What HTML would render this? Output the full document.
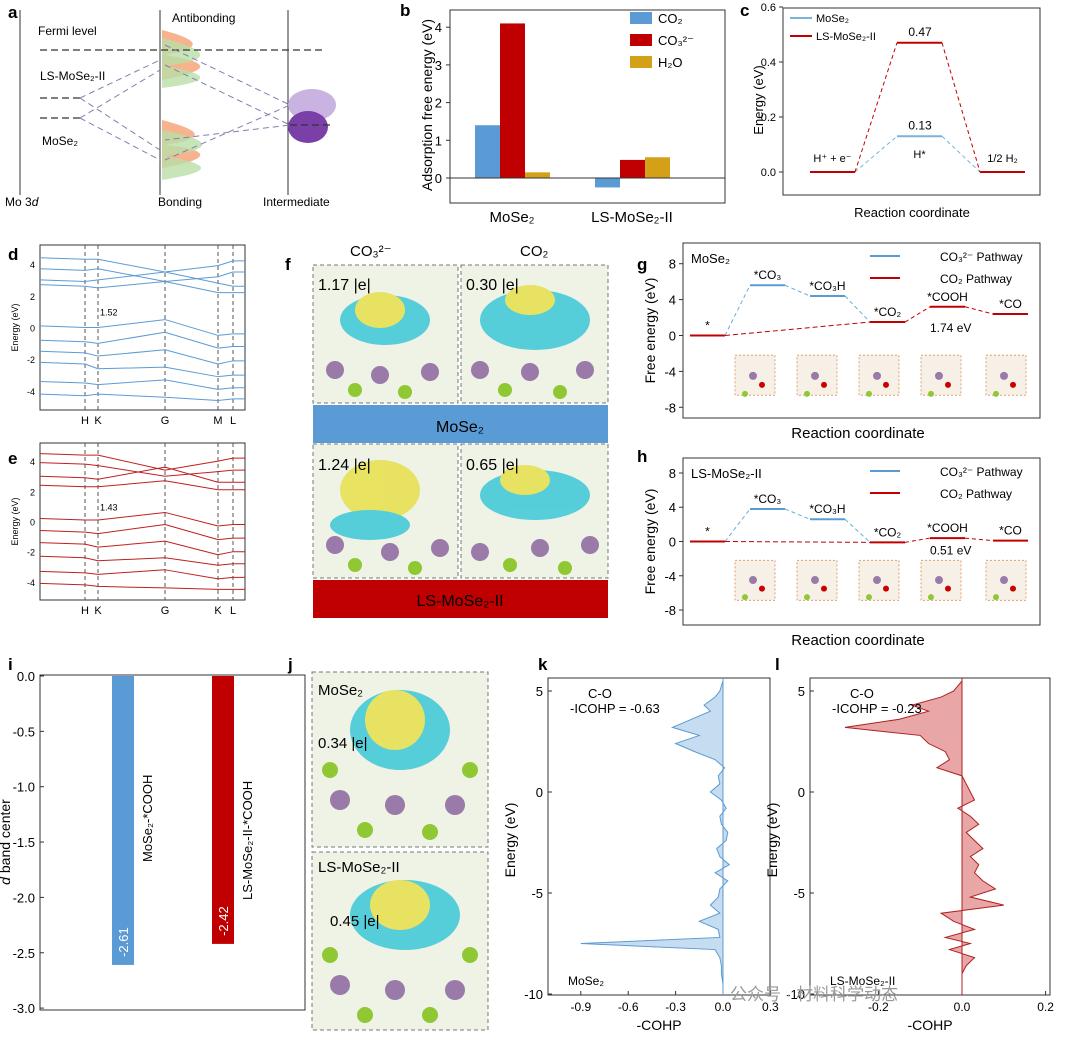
<!DOCTYPE html>
<html><head><meta charset="utf-8"><style>
body{margin:0;background:#fff}
svg{display:block;font-family:"Liberation Sans","Noto Sans CJK SC",sans-serif}
</style></head><body>
<svg id="fig" width="1074" height="1041" viewBox="0 0 1074 1041" xmlns="http://www.w3.org/2000/svg">
<g font-weight="bold" font-size="17">
<text x="8" y="18">a</text><text x="400" y="16">b</text><text x="740" y="16">c</text>
<text x="8" y="260">d</text><text x="8" y="464">e</text><text x="285" y="270">f</text>
<text x="637" y="270">g</text><text x="637" y="462">h</text>
<text x="8" y="670">i</text><text x="288" y="670">j</text><text x="538" y="670">k</text><text x="775" y="670">l</text>
</g>
<!-- panel a -->
<g font-size="12">
<line x1="20" y1="10" x2="20" y2="195" stroke="#333"/>
<line x1="160" y1="10" x2="160" y2="195" stroke="#333"/>
<line x1="288" y1="10" x2="288" y2="195" stroke="#333"/>
<path d="M162 30 C200 40 205 48 165 55 C210 62 215 70 162 80 Z" fill="#f4a071" opacity="0.8"/>
<path d="M162 38 C210 50 215 60 165 66 C215 75 210 82 162 88 Z" fill="#b9dfa8" opacity="0.8"/>
<path d="M162 120 C200 130 210 138 165 145 C215 150 210 160 162 168 Z" fill="#f4a071" opacity="0.8"/>
<path d="M162 130 C215 140 215 150 165 156 C215 165 212 172 162 180 Z" fill="#b9dfa8" opacity="0.8"/>
<ellipse cx="312" cy="105" rx="24" ry="16" fill="#c9b3e0"/>
<ellipse cx="308" cy="127" rx="20" ry="16" fill="#7b3fa8"/>
<g stroke="#333" stroke-dasharray="7,4" stroke-width="1.3">
<line x1="40" y1="50" x2="325" y2="50"/><line x1="40" y1="98" x2="80" y2="98"/><line x1="40" y1="118" x2="80" y2="118"/><line x1="290" y1="125" x2="330" y2="125"/>
</g>
<g stroke="#8080b0" stroke-dasharray="6,4" fill="none">
<path d="M80 98 L160 60 M80 98 L160 150 M80 118 L160 70 M80 118 L160 160"/>
<path d="M165 45 L290 105 L165 160 M165 65 L290 125 L165 140"/>
</g>
<text x="38" y="35">Fermi level</text><text x="172" y="22">Antibonding</text>
<text x="40" y="80">LS-MoSe₂-II</text><text x="42" y="145">MoSe₂</text>
<text x="5" y="206">Mo 3<tspan font-style="italic">d</tspan></text><text x="158" y="206">Bonding</text><text x="263" y="206">Intermediate</text>
</g>
<g id="gb"></g>
<g id="gc"></g>
<g id="gd"></g>
<g id="ge"></g>
<!-- panel f -->
<g font-size="14">
<text x="350" y="256" font-size="15">CO₃²⁻</text><text x="520" y="256" font-size="15">CO₂</text>
<rect x="313" y="265" width="145" height="138" fill="#eef3e6" stroke="#777" stroke-dasharray="4,3"/>
<rect x="461" y="265" width="147" height="138" fill="#eef3e6" stroke="#777" stroke-dasharray="4,3"/>
<rect x="313" y="444" width="145" height="134" fill="#eef3e6" stroke="#777" stroke-dasharray="4,3"/>
<rect x="461" y="444" width="147" height="134" fill="#eef3e6" stroke="#777" stroke-dasharray="4,3"/>
<g opacity="0.85">
<ellipse cx="385" cy="320" rx="45" ry="25" fill="#3cc8d8"/><ellipse cx="380" cy="310" rx="25" ry="18" fill="#e6e04a"/>
<ellipse cx="535" cy="320" rx="55" ry="30" fill="#3cc8d8"/><ellipse cx="530" cy="300" rx="25" ry="15" fill="#e6e04a"/>
<ellipse cx="380" cy="490" rx="40" ry="30" fill="#e6e04a"/><ellipse cx="370" cy="525" rx="40" ry="15" fill="#3cc8d8"/>
<ellipse cx="535" cy="495" rx="55" ry="25" fill="#3cc8d8"/><ellipse cx="525" cy="480" rx="25" ry="15" fill="#e6e04a"/>
</g>
<g fill="#9a7aa8"><circle cx="335" cy="370" r="9"/><circle cx="380" cy="375" r="9"/><circle cx="430" cy="372" r="9"/><circle cx="480" cy="370" r="9"/><circle cx="530" cy="372" r="9"/><circle cx="585" cy="370" r="9"/>
<circle cx="335" cy="545" r="9"/><circle cx="390" cy="552" r="9"/><circle cx="440" cy="548" r="9"/><circle cx="480" cy="552" r="9"/><circle cx="540" cy="548" r="9"/><circle cx="590" cy="545" r="9"/></g>
<g fill="#8fc832"><circle cx="355" cy="390" r="7"/><circle cx="405" cy="392" r="7"/><circle cx="505" cy="390" r="7"/><circle cx="560" cy="392" r="7"/><circle cx="355" cy="565" r="7"/><circle cx="415" cy="568" r="7"/><circle cx="510" cy="565" r="7"/><circle cx="565" cy="568" r="7"/></g>
<text x="318" y="290" font-size="16">1.17 |e|</text><text x="466" y="290" font-size="16">0.30 |e|</text>
<text x="318" y="470" font-size="16">1.24 |e|</text><text x="466" y="470" font-size="16">0.65 |e|</text>
<rect x="313" y="405" width="295" height="38" fill="#5b9bd5"/>
<text x="460" y="432" text-anchor="middle" font-size="16">MoSe₂</text>
<rect x="313" y="580" width="295" height="38" fill="#c00000"/>
<text x="460" y="606" text-anchor="middle" font-size="16">LS-MoSe₂-II</text>
</g>
<g id="gg"></g>
<g id="gh"></g>
<g id="gi"></g>
<!-- panel j -->
<g font-size="14">
<rect x="312" y="672" width="176" height="175" fill="#eef3e6" stroke="#777" stroke-dasharray="4,3"/>
<rect x="312" y="852" width="176" height="178" fill="#eef3e6" stroke="#777" stroke-dasharray="4,3"/>
<g opacity="0.85"><ellipse cx="400" cy="730" rx="50" ry="40" fill="#3cc8d8"/><ellipse cx="395" cy="720" rx="30" ry="30" fill="#e6e04a"/>
<ellipse cx="405" cy="915" rx="55" ry="35" fill="#3cc8d8"/><ellipse cx="400" cy="905" rx="30" ry="25" fill="#e6e04a"/></g>
<g fill="#9a7aa8"><circle cx="340" cy="800" r="10"/><circle cx="395" cy="805" r="10"/><circle cx="455" cy="805" r="10"/><circle cx="340" cy="985" r="10"/><circle cx="395" cy="990" r="10"/><circle cx="455" cy="990" r="10"/></g>
<g fill="#8fc832"><circle cx="330" cy="770" r="8"/><circle cx="365" cy="830" r="8"/><circle cx="430" cy="832" r="8"/><circle cx="470" cy="770" r="8"/><circle cx="330" cy="955" r="8"/><circle cx="365" cy="1015" r="8"/><circle cx="430" cy="1015" r="8"/><circle cx="470" cy="955" r="8"/></g>
<text x="318" y="695" font-size="15">MoSe₂</text><text x="318" y="748" font-size="15">0.34 |e|</text>
<text x="318" y="872" font-size="15">LS-MoSe₂-II</text><text x="330" y="926" font-size="15">0.45 |e|</text>
</g>
<g id="gk"></g>
<g id="gl"></g>
<text x="730" y="1000" font-size="17" fill="#999">公众号 · 材料科学动态</text>
</svg>
<script>
// ---- data ----
const bCats=["MoSe₂","LS-MoSe₂-II"];
const bCO2=[1.4,-0.25];
const bCO3=[4.1,0.48];
const bH2O=[0.15,0.55];
const bTicks=[0,1,2,3,4];
const cSteps=["H⁺ + e⁻","H*","1/2 H₂"];
const cMo=[0,0.13,0];
const cLS=[0,0.47,0];
const cTicks=[0,0.2,0.4,0.6];
const gSteps=["*","*CO₃","*CO₃H","*CO₂","*COOH","*CO"];
const gMoSe2=[0,5.6,4.4,1.5,3.2,2.4];
const gLS=[0,3.8,2.6,-0.1,0.4,0.1];
const gTicks=[8,4,0,-4,-8];
const iCats=["MoSe₂-*COOH","LS-MoSe₂-II-*COOH"];
const iVals=[-2.61,-2.42];
const iTicks=[0,-0.5,-1,-1.5,-2,-2.5,-3];
const kE=[5.5,5,4.7,4.3,4,3.6,3.2,2.8,2.4,2,1.6,1.2,0.8,0.4,0,-0.4,-0.8,-1.2,-1.6,-2,-2.4,-2.8,-3.2,-3.6,-4,-4.4,-4.8,-5.2,-5.6,-6,-6.4,-6.8,-7.2,-7.5,-7.8,-8.2,-8.6,-9,-9.5];
const kCOHP=[0,-0.02,-0.05,-0.12,-0.08,-0.2,-0.32,-0.15,-0.3,-0.18,-0.05,0.01,-0.03,-0.02,-0.08,-0.01,0.02,-0.02,-0.01,0.03,0.02,-0.04,-0.02,0.04,-0.05,0.03,-0.02,-0.03,-0.08,-0.02,-0.15,-0.03,-0.02,-0.9,-0.05,-0.02,-0.01,-0.01,0];
const lCOHP=[0,-0.02,-0.05,-0.12,-0.08,-0.15,-0.28,-0.1,-0.08,-0.04,-0.03,-0.06,0,0.01,0.02,0.03,-0.01,0.02,0.04,0.01,0.03,0.05,0.02,0.04,0.03,0.05,0.08,0.02,0.1,-0.05,-0.02,0.03,-0.04,0.02,-0.03,0.03,0.01,0,0];
const kTicksX=[-0.9,-0.6,-0.3,0,0.3];
const lTicksX=[-0.2,0,0.2];
const eTicks=[5,0,-5,-10];
const bandK=["H","K","G","M","L"];
const bandsD=[[4.3,4.3,3.5,3.9,4.2],[3.6,3.7,2.9,3.2,3.5],[2.9,3,3.5,2.8,2.6],[2.6,2.5,2.9,2.2,2.2],[0,0,0.5,-0.5,-0.4],[-0.9,-1,-0.3,-1.3,-1.2],[-1.6,-1.8,-1.4,-2.3,-2.1],[-2.3,-2.6,-2.5,-3.1,-3],[-3.5,-3.6,-3.3,-3.9,-3.8],[-4.3,-4.2,-4.4,-4.6,-4.5]];
const bandsE=[[4.4,4.4,3.4,4,4.2],[3.8,3.7,3,3.3,3.4],[2.9,2.8,3.6,2.6,2.6],[2.3,2.3,2.7,2.1,2.1],[0.1,0.1,0.6,-0.3,-0.2],[-0.7,-0.8,-0.2,-1.2,-1.1],[-1.5,-1.7,-1.3,-2.2,-2],[-2.4,-2.6,-2.4,-2.9,-2.8],[-3.4,-3.5,-3.2,-3.8,-3.7],[-4.2,-4.3,-4.4,-4.5,-4.5]];
</script>
<script>
const NS="http://www.w3.org/2000/svg";
function mk(p,t,a,txt){const e=document.createElementNS(NS,t);for(const k in a)e.setAttribute(k,a[k]);if(txt!==undefined)e.textContent=txt;p.appendChild(e);return e;}
const BLUE="#5b9bd5",RED="#c00000",GOLD="#d4a017";
// panel b
(function(){const g=document.getElementById('gb');const L=450,R=725,T=10,B=203;const y=v=>178-v*37.7;
mk(g,'rect',{x:L,y:T,width:R-L,height:B-T,fill:'none',stroke:'#333'});
bTicks.forEach(v=>{mk(g,'line',{x1:L-4,x2:L,y1:y(v),y2:y(v),stroke:'#333'});const t=mk(g,'text',{x:L-8,y:y(v)+5,'text-anchor':'end','font-size':13},v);});
const series=[[bCO2,BLUE],[bCO3,RED],[bH2O,GOLD]];
bCats.forEach((c,i)=>{const cx=i===0?512:632;series.forEach((s,j)=>{const v=s[0][i];const r=mk(g,'rect',{x:cx-37+j*25,y:Math.min(y(v),y(0)),width:25,height:Math.abs(y(v)-y(0)),fill:s[1]});});
const t=mk(g,'text',{x:cx,y:222,'text-anchor':'middle','font-size':15},c);});
mk(g,'line',{x1:L,x2:R,y1:y(0),y2:y(0),stroke:'#333'});
const tt=mk(g,'text',{transform:'translate(432,105) rotate(-90)','text-anchor':'middle','font-size':14},'Adsorption free energy (eV)');
[["CO₂",BLUE],["CO₃²⁻",RED],["H₂O",GOLD]].forEach((l,i)=>{mk(g,'rect',{x:630,y:12+i*22,width:22,height:12,fill:l[1]});const t=mk(g,'text',{x:658,y:23+i*22,'font-size':13},l[0]);});
})();
// panel c
(function(){const g=document.getElementById('gc');const L=783,R=1040,T=8,B=195;const y=v=>172-v*275;
mk(g,'rect',{x:L,y:T,width:R-L,height:B-T,fill:'none',stroke:'#333'});
cTicks.forEach(v=>{mk(g,'line',{x1:L-4,x2:L,y1:y(v),y2:y(v),stroke:'#333'});mk(g,'text',{x:L-7,y:y(v)+4,'text-anchor':'end','font-size':11},v.toFixed(1));});
mk(g,'text',{transform:'translate(763,100) rotate(-90)','text-anchor':'middle','font-size':13},'Energy (eV)');
mk(g,'text',{x:912,y:217,'text-anchor':'middle','font-size':13},'Reaction coordinate');
const xs=[810,897,980],w=45;
[[cMo,"#7ab3d9"],[cLS,RED]].forEach(s=>{s[0].forEach((v,i)=>{const l=mk(g,'line',{x1:xs[i],x2:xs[i]+w,y1:y(v),y2:y(v),stroke:s[1],'stroke-width':2});if(i<2)mk(g,'line',{x1:xs[i]+w,x2:xs[i+1],y1:y(v),y2:y(s[0][i+1]),stroke:s[1],'stroke-dasharray':'4,3'});});});
mk(g,'text',{x:920,y:y(cLS[1])-7,'text-anchor':'middle','font-size':12},cLS[1].toFixed(2));
mk(g,'text',{x:920,y:y(cMo[1])-7,'text-anchor':'middle','font-size':12},cMo[1].toFixed(2));
cSteps.forEach((s,i)=>mk(g,'text',{x:xs[i]+w/2,y:i==1?158:y(0)-10,'text-anchor':'middle','font-size':11},s));
mk(g,'line',{x1:790,x2:812,y1:18,y2:18,stroke:'#7ab3d9','stroke-width':2});mk(g,'text',{x:816,y:22,'font-size':11},'MoSe₂');
mk(g,'line',{x1:790,x2:812,y1:36,y2:36,stroke:RED,'stroke-width':2});mk(g,'text',{x:816,y:40,'font-size':11},'LS-MoSe₂-II');
})();
// bands
function bands(id,T,B,data,col,labs,gapTxt){const g=document.getElementById(id);const L=40,R=245;const y=v=>(T+B)/2-v*(B-T)/10.4;const kx=[85,98,165,218,233];
mk(g,'rect',{x:L,y:T,width:R-L,height:B-T,fill:'none',stroke:'#333'});
[4,2,0,-2,-4].forEach(v=>mk(g,'text',{x:L-5,y:y(v)+4,'text-anchor':'end','font-size':9},v));
kx.forEach(x=>mk(g,'line',{x1:x,x2:x,y1:T,y2:B,stroke:'#555','stroke-dasharray':'4,3'}));
mk(g,'text',{transform:`translate(18,${(T+B)/2}) rotate(-90)`,'text-anchor':'middle','font-size':9},'Energy (eV)');
labs.forEach((l,i)=>mk(g,'text',{x:kx[i],y:B+14,'text-anchor':'middle','font-size':11},l));
data.forEach(b=>{const pts=[[L,b[0]+0.1]].concat(kx.map((x,i)=>[x,b[i]])).concat([[R,b[4]]]);const d='M'+pts.map(p=>p[0]+' '+y(p[1])).join(' L');
const p=mk(g,'path',{d:d,fill:'none',stroke:col,'stroke-width':1,'stroke-linejoin':'round'});});
mk(g,'text',{x:100,y:y(1)+4,'font-size':9},gapTxt);}
bands('gd',245,410,bandsD,"#5b9bd5",bandK,"1.52");
bands('ge',443,600,bandsE,"#c02020",["H","K","G","K","L"],"1.43");
// panels g,h
function path(id,T,B,vals,title,gapTxt){const g=document.getElementById(id);const L=683,R=1040;const y0=(T+B)/2+(id=='gg'?5:0);const sc=(B-T)/19.5;const y=v=>y0-v*sc;
mk(g,'rect',{x:L,y:T,width:R-L,height:B-T,fill:'none',stroke:'#333'});
gTicks.forEach(v=>{mk(g,'line',{x1:L-4,x2:L,y1:y(v),y2:y(v),stroke:'#333'});mk(g,'text',{x:L-7,y:y(v)+5,'text-anchor':'end','font-size':13},v);});
mk(g,'text',{transform:`translate(655,${(T+B)/2}) rotate(-90)`,'text-anchor':'middle','font-size':14},'Free energy (eV)');
mk(g,'text',{x:858,y:B+20,'text-anchor':'middle','font-size':15},'Reaction coordinate');
mk(g,'text',{x:L+8,y:T+20,'font-size':13},title);
const xs=[690,750,810,870,930,993],w=35;
vals.forEach((v,i)=>{const c=(i==1||i==2)?BLUE:RED;const l=mk(g,'line',{x1:xs[i],x2:xs[i]+w,y1:y(v),y2:y(v),stroke:c,'stroke-width':2});
mk(g,'text',{x:xs[i]+w/2,y:y(v)-6,'text-anchor':'middle','font-size':12},gSteps[i]);
if(i<5){const dc=(i<3)?"#6aaed6":RED;mk(g,'line',{x1:xs[i]+w,x2:xs[i+1],y1:y(v),y2:y(vals[i+1]),stroke:dc,'stroke-dasharray':'4,3'});}});
mk(g,'line',{x1:xs[0]+w,x2:xs[3],y1:y(0),y2:y(vals[3]),stroke:RED,'stroke-dasharray':'5,3'});
mk(g,'text',{x:930,y:y(vals[3])+ (id=='gg'?10:12),'font-size':12},gapTxt);
xs.slice(1).forEach((x,i)=>{mk(g,'rect',{x:x-15+i*2,y:y(-2.2),width:40,height:40,fill:'#f6f0e6',stroke:'#e0a070','stroke-dasharray':'2,2'});mk(g,'circle',{cx:x+3+i*2,cy:y(-4.5),r:4,fill:'#9a7aa8'});mk(g,'circle',{cx:x+12+i*2,cy:y(-5.5),r:3,fill:'#c00'});mk(g,'circle',{cx:x-5+i*2,cy:y(-6.5),r:3,fill:'#8fc832'});});
mk(g,'line',{x1:870,x2:900,y1:T+13,y2:T+13,stroke:BLUE,'stroke-width':2});mk(g,'text',{x:940,y:T+18,'font-size':12},'CO₃²⁻ Pathway');
mk(g,'line',{x1:870,x2:900,y1:T+35,y2:T+35,stroke:RED,'stroke-width':2});mk(g,'text',{x:940,y:T+40,'font-size':12},'CO₂  Pathway');}
path('gg',243,418,gMoSe2,'MoSe₂','1.74 eV');
path('gh',458,625,gLS,'LS-MoSe₂-II','0.51 eV');
// panel i
(function(){const g=document.getElementById('gi');const L=40,R=305,T=675,B=1010;const yy=v=>676-v*110.7;
mk(g,'rect',{x:L,y:T,width:R-L,height:B-T,fill:'none',stroke:'#333'});
iTicks.forEach(v=>{mk(g,'line',{x1:L,x2:L+4,y1:yy(v),y2:yy(v),stroke:'#333'});mk(g,'text',{x:L-5,y:yy(v)+5,'text-anchor':'end','font-size':13},v.toFixed(1));});
const yt=mk(g,'text',{transform:'translate(10,842) rotate(-90)','text-anchor':'middle','font-size':14});
mk(yt,'tspan',{'font-style':'italic'},'d');mk(yt,'tspan',{},' band center');
const xs=[112,212],cs=[BLUE,RED];
iVals.forEach((v,i)=>{const r=mk(g,'rect',{x:xs[i],y:yy(0),width:22,height:yy(v)-yy(0),fill:cs[i]});
mk(g,'text',{transform:`translate(${xs[i]+16},${yy(v)-8}) rotate(-90)`,'font-size':13,fill:'#fff'},v.toFixed(2));
const t=mk(g,'text',{transform:`translate(${xs[i]+40},${i==0?862:900}) rotate(-90)`,'font-size':13},iCats[i]);});
})();
// panels k,l
function cohp(id,L,R,x0,xs,vals,col,fill,ticks,name,ic){const g=document.getElementById(id);const T=678,B=995;const y=v=>792-v*20.2;const x=v=>x0+v*xs;
mk(g,'rect',{x:L,y:T,width:R-L,height:B-T,fill:'none',stroke:'#333'});
eTicks.forEach(v=>{mk(g,'line',{x1:L,x2:L+4,y1:y(v),y2:y(v),stroke:'#333'});mk(g,'text',{x:L-5,y:y(v)+5,'text-anchor':'end','font-size':13},v);});
ticks.forEach(v=>{mk(g,'line',{x1:x(v),x2:x(v),y1:B,y2:B-4,stroke:'#333'});mk(g,'text',{x:x(v),y:B+16,'text-anchor':'middle','font-size':12},v.toFixed(1));});
mk(g,'text',{transform:`translate(${L-33},840) rotate(-90)`,'text-anchor':'middle','font-size':14},'Energy (eV)');
mk(g,'text',{x:(L+R)/2,y:B+35,'text-anchor':'middle','font-size':14},'-COHP');
mk(g,'line',{x1:x(0),x2:x(0),y1:T,y2:B,stroke:col});
const pts=kE.map((e,i)=>x(vals[i])+' '+y(e));
const a=mk(g,'path',{d:`M${x(0)} ${y(kE[0])} L${pts.join(' L')} L${x(0)} ${y(kE[kE.length-1])} Z`,fill:fill,stroke:col,'stroke-width':1});
mk(g,'text',{x:L+40,y:T+20,'font-size':13},'C-O');mk(g,'text',{x:L+22,y:T+35,'font-size':13},'-ICOHP = '+ic);
mk(g,'text',{x:L+20,y:B-10,'font-size':12},name);}
cohp('gk',548,770,723,158,kCOHP,"#5b9bd5","rgba(91,155,213,0.35)",kTicksX,'MoSe₂','-0.63');
cohp('gl',810,1050,962,418,lCOHP,"#b02020","rgba(192,0,0,0.35)",lTicksX,'LS-MoSe₂-II','-0.23');
</script>
</body></html>
